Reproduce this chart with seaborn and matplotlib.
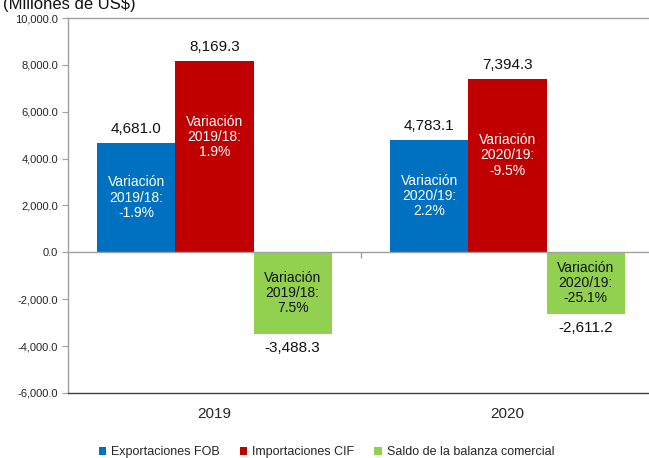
import matplotlib
matplotlib.use("Agg")
import matplotlib.pyplot as plt
import pandas as pd
import seaborn as sns

years = ["2019", "2020"]
series = ["Exportaciones FOB", "Importaciones CIF", "Saldo de la balanza comercial"]
exportaciones = [4681.0, 4783.1]
importaciones = [8169.3, 7394.3]
saldo = [-3488.3, -2611.2]
var_export = ["Variación\n2019/18:\n-1.9%", "Variación\n2020/19:\n2.2%"]
var_import = ["Variación\n2019/18:\n1.9%", "Variación\n2020/19:\n-9.5%"]
var_saldo = ["Variación\n2019/18:\n7.5%", "Variación\n2020/19:\n-25.1%"]
colors = ["#0070C0", "#C00000", "#92D050"]

df = pd.DataFrame({
    "year": years * 3,
    "serie": [s for s in series for _ in years],
    "valor": exportaciones + importaciones + saldo,
})

sns.set_style("white")
plt.rcParams["font.family"] = ["Liberation Sans", "DejaVu Sans"]

fig = plt.figure(figsize=(6.49, 4.58), dpi=100)
ax = fig.add_axes([68 / 649, 1 - 393 / 458, 586 / 649, 375 / 458])

sns.barplot(data=df, x="year", y="valor", hue="serie", palette=colors,
            hue_order=series, order=years, width=0.8, saturation=1,
            edgecolor="none", ax=ax)

ax.set_ylim(-6000, 10000)
ax.set_xlim(-0.5, 1.5)
ax.set_yticks(range(-6000, 10001, 2000))
ax.set_yticklabels([f"{v:,.1f}" for v in range(-6000, 10001, 2000)], fontsize=8)
ax.set_xticks([0, 1])
ax.set_xticklabels(years, fontsize=11)
ax.set_xlabel("")
ax.set_ylabel("")
ax.tick_params(axis="y", length=4, color="#A0A0A0", direction="out", pad=3, left=True)
ax.tick_params(axis="x", length=0, pad=10)

for side in ["left", "top", "right"]:
    ax.spines[side].set_color("#A0A0A0")
    ax.spines[side].set_linewidth(1)
ax.spines["bottom"].set_color("#404040")
ax.spines["bottom"].set_linewidth(1)

ax.axhline(0, color="#A0A0A0", lw=1, zorder=1)
ax.vlines([0.5], -230, 0, color="#A0A0A0", lw=1)

# value labels
for cont in ax.containers:
    ax.bar_label(cont, labels=[f"{b.get_height():,.1f}" for b in cont],
                 padding=5, fontsize=11, color="#111111")

# variation labels inside bars
for cont, texts, col, mode in zip(ax.containers,
                                  [var_export, var_import, var_saldo],
                                  ["white", "white", "#111111"],
                                  ["center", "top", "center"]):
    for bar, txt in zip(cont, texts):
        xc = bar.get_x() + bar.get_width() / 2
        h = bar.get_height()
        if mode == "center":
            ax.text(xc, h / 2, txt, ha="center", va="center", fontsize=10,
                    color=col, linespacing=1.1)
        else:
            ax.annotate(txt, (xc, h), xytext=(0, -55), textcoords="offset points",
                        ha="center", va="center", fontsize=10, color=col,
                        linespacing=1.1)

handles, labels = ax.get_legend_handles_labels()
ax.get_legend().remove()
fig.legend(handles, labels, loc="center", bbox_to_anchor=(0.503, 1 - 452 / 458),
           ncol=3, frameon=False, fontsize=9, handlelength=0.6, handleheight=0.6,
           handletextpad=0.4, columnspacing=1.6)

fig.text(3 / 649, 1 - 8.5 / 458, "(Millones de US$)", fontsize=12, ha="left",
         va="baseline", color="#111111")

fig.savefig("out.png", dpi=100)
